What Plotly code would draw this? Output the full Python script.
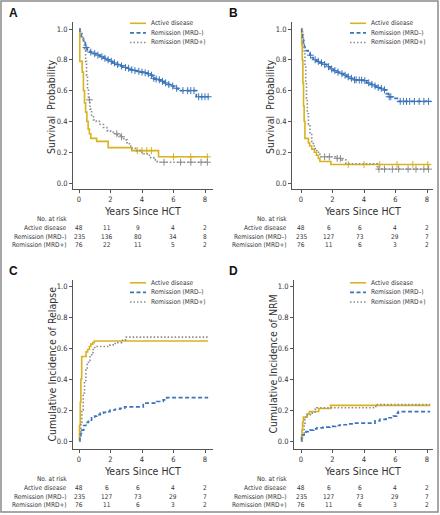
import plotly.graph_objects as go

W, H = 440, 515
FONT = "DejaVu Sans Condensed, Liberation Sans Narrow, Arial Narrow, Liberation Sans, Arial, sans-serif"
C_ACT = "#D8B21F"
C_NEG = "#3B74BA"
C_POS = "#8C8C8C"
TXT = "#333333"

GROUPS = ["Active disease", "Remission (MRD\u2013)", "Remission (MRD+)"]
RISK_TIMES = [0, 2, 4, 6, 8]

# ---------------- Panel A: overall survival ----------------
A_act_t = [0, 0.05, 0.2, 0.28, 0.35, 0.42, 0.5, 0.58, 0.66, 0.75, 1.12, 1.85, 3.35, 5.05, 8.15]
A_act_s = [1.0, 0.79, 0.72, 0.6, 0.52, 0.46, 0.40, 0.35, 0.32, 0.29, 0.27, 0.23, 0.21, 0.17, 0.17]
A_act_c = [3.7, 4.0, 4.3, 4.6, 6.0, 7.1, 8.15]
A_neg_t = [0, 0.06, 0.15, 0.28, 0.4, 0.53, 0.7, 0.92, 1.1, 1.34, 1.55, 1.77, 1.95, 2.1, 2.35, 2.6,
           2.85, 3.05, 3.25, 3.48, 3.7, 3.9, 4.1, 4.33, 4.5, 4.65, 4.8, 4.97, 5.2, 5.4, 5.6, 5.82,
           6.0, 6.14, 6.3, 6.46, 7.45, 8.25]
A_neg_s = [1.0, 0.98, 0.95, 0.91, 0.88, 0.86, 0.85, 0.84, 0.83, 0.82, 0.81, 0.80, 0.79, 0.78, 0.77, 0.76,
           0.75, 0.745, 0.735, 0.73, 0.725, 0.72, 0.715, 0.71, 0.70, 0.68, 0.675, 0.67, 0.66, 0.65, 0.64, 0.63,
           0.625, 0.615, 0.61, 0.60, 0.56, 0.56]
A_neg_c = [0.45, 0.75, 1.0, 1.2, 1.45, 1.65, 1.85, 2.05, 2.25, 2.45, 2.7, 2.95, 3.15, 3.35, 3.55, 3.8,
           4.0, 4.2, 4.4, 4.6, 4.75, 4.9, 5.1, 5.3, 5.5, 5.7, 5.95, 6.2, 6.6, 6.9, 7.1, 7.3, 7.6, 7.8, 8.0, 8.2]
A_pos_t = [0, 0.1, 0.2, 0.28, 0.35, 0.42, 0.48, 0.54, 0.6, 0.7, 0.8, 0.92, 1.1, 1.34, 1.55, 1.77, 2.0,
           2.2, 2.45, 2.62, 2.85, 3.05, 3.2, 3.37, 3.6, 3.9, 4.1, 4.33, 4.55, 4.75, 4.97, 8.15]
A_pos_s = [1.0, 0.97, 0.95, 0.92, 0.86, 0.79, 0.7, 0.61, 0.54, 0.48, 0.44, 0.41, 0.40, 0.38, 0.36, 0.34, 0.33,
           0.32, 0.31, 0.30, 0.28, 0.26, 0.24, 0.225, 0.21, 0.2, 0.19, 0.18, 0.165, 0.15, 0.135, 0.135]
A_pos_c = [0.66, 2.4, 2.7, 5.4, 6.45, 7.1, 7.75, 8.15]
A_risk = [[48, 11, 9, 4, 2], [235, 136, 80, 34, 8], [76, 22, 11, 5, 2]]

# ---------------- Panel B: leukemia-free survival ----------------
B_act_t = [0, 0.04, 0.08, 0.12, 0.16, 0.2, 0.25, 0.47, 0.55, 0.68, 0.85, 0.98, 1.1, 1.2, 1.9, 8.2]
B_act_s = [1.0, 0.9, 0.8, 0.65, 0.5, 0.4, 0.29, 0.26, 0.24, 0.22, 0.20, 0.18, 0.16, 0.14, 0.12, 0.12]
B_act_c = [3.0, 4.0, 5.0, 6.1, 7.1, 8.05]
B_neg_t = [0, 0.05, 0.1, 0.15, 0.22, 0.32, 0.45, 0.57, 0.68, 0.78, 0.99, 1.2, 1.4, 1.63, 1.85, 2.05, 2.25,
           2.48, 2.7, 2.9, 3.1, 3.32, 3.6, 3.96, 4.17, 4.4, 4.6, 4.8, 5.0, 5.23, 5.4, 5.54, 5.86, 6.18, 8.25]
B_neg_s = [1.0, 0.97, 0.93, 0.90, 0.88, 0.86, 0.85, 0.83, 0.815, 0.80, 0.79, 0.78, 0.77, 0.755, 0.74, 0.73, 0.72,
           0.71, 0.70, 0.69, 0.68, 0.67, 0.668, 0.665, 0.65, 0.64, 0.63, 0.62, 0.615, 0.605, 0.58, 0.56, 0.55, 0.53, 0.53]
B_neg_c = [0.6, 0.9, 1.1, 1.3, 1.5, 1.75, 1.95, 2.15, 2.35, 2.6, 2.8, 3.0, 3.2, 3.4, 3.5, 3.7, 3.85, 4.05,
           4.3, 4.5, 4.7, 4.9, 5.1, 5.3, 5.6, 5.7, 6.3, 6.5, 6.7, 6.9, 7.2, 7.5, 7.8, 8.1]
B_pos_t = [0, 0.1, 0.15, 0.2, 0.25, 0.3, 0.35, 0.4, 0.47, 0.57, 0.68, 0.78, 0.9, 1.0, 1.2, 2.2, 2.6,
           2.85, 4.85, 8.2]
B_pos_s = [1.0, 0.97, 0.93, 0.85, 0.76, 0.65, 0.55, 0.45, 0.38, 0.32, 0.27, 0.24, 0.22, 0.20, 0.17, 0.16, 0.15,
           0.125, 0.09, 0.09]
B_pos_c = [1.5, 1.8, 2.3, 2.5, 4.95, 5.3, 5.8, 6.2, 6.8, 7.3, 7.8, 8.1]
B_risk = [[48, 6, 6, 4, 2], [235, 127, 73, 29, 7], [76, 11, 6, 3, 2]]

# ---------------- Panel C: cumulative incidence of relapse ----------------
C_act_t = [0, 0.03, 0.08, 0.12, 0.17, 0.45, 0.55, 0.66, 0.75, 0.87, 0.97, 8.2]
C_act_s = [0, 0.1, 0.25, 0.40, 0.545, 0.575, 0.59, 0.61, 0.625, 0.635, 0.645, 0.645]
C_neg_t = [0, 0.06, 0.12, 0.17, 0.3, 0.44, 0.6, 0.8, 1.0, 1.12, 1.35, 1.55, 1.75, 1.97, 2.3, 2.6, 2.9,
           3.98, 4.08, 4.93, 5.35, 5.57, 8.2]
C_neg_s = [0, 0.02, 0.05, 0.07, 0.1, 0.12, 0.135, 0.15, 0.16, 0.17, 0.18, 0.185, 0.19, 0.20, 0.205, 0.21, 0.22,
           0.22, 0.245, 0.255, 0.265, 0.28, 0.28]
C_pos_t = [0, 0.06, 0.12, 0.18, 0.27, 0.35, 0.44, 0.52, 0.6, 0.7, 0.8, 0.9, 1.0, 1.97, 2.3, 2.7, 2.95, 8.2]
C_pos_s = [0, 0.05, 0.12, 0.2, 0.31, 0.39, 0.46, 0.5, 0.52, 0.55, 0.57, 0.59, 0.61, 0.62, 0.635, 0.65, 0.67, 0.67]
C_risk = [[48, 6, 6, 4, 2], [235, 127, 73, 29, 7], [76, 11, 6, 3, 2]]

# ---------------- Panel D: cumulative incidence of NRM ----------------
D_act_t = [0, 0.03, 0.06, 0.1, 0.15, 0.4, 0.53, 1.13, 1.88, 8.2]
D_act_s = [0, 0.03, 0.07, 0.12, 0.155, 0.175, 0.19, 0.21, 0.23, 0.23]
D_neg_t = [0, 0.05, 0.1, 0.2, 0.32, 0.45, 0.57, 0.8, 1.0, 1.4, 1.84, 2.2, 2.48, 3.0, 3.3, 4.55, 4.7, 5.0,
           5.4, 5.86, 6.07, 6.18, 8.2]
D_neg_s = [0, 0.02, 0.04, 0.05, 0.06, 0.065, 0.07, 0.078, 0.085, 0.09, 0.095, 0.1, 0.105, 0.11, 0.115, 0.115,
           0.13, 0.14, 0.15, 0.16, 0.18, 0.19, 0.19]
D_pos_t = [0, 0.1, 0.15, 0.2, 0.25, 0.32, 0.4, 0.68, 0.89, 1.0, 4.75, 8.2]
D_pos_s = [0, 0.02, 0.05, 0.1, 0.14, 0.16, 0.17, 0.18, 0.205, 0.215, 0.235, 0.235]
D_risk = [[48, 6, 6, 4, 2], [235, 127, 73, 29, 7], [76, 11, 6, 3, 2]]

STYLES = [dict(color=C_ACT, width=1.6, dash="solid"),
          dict(color=C_NEG, width=1.7, dash="4px,2.5px"),
          dict(color=C_POS, width=1.6, dash="1.5px,2px")]

panels = [
    dict(letter="A", ylabel="Survival  Probability",
         curves=[(A_act_t, A_act_s, A_act_c), (A_neg_t, A_neg_s, A_neg_c), (A_pos_t, A_pos_s, A_pos_c)],
         risk=A_risk, dx=(73, 213), dy=(22, 189), px0=79, px8=205, py0=183, py1=29, ox=0, oy=0, base=189),
    dict(letter="B", ylabel="Survival  Probability",
         curves=[(B_act_t, B_act_s, B_act_c), (B_neg_t, B_neg_s, B_neg_c), (B_pos_t, B_pos_s, B_pos_c)],
         risk=B_risk, dx=(292, 433), dy=(22, 189), px0=301, px8=427, py0=183, py1=29, ox=220, oy=0, base=189),
    dict(letter="C", ylabel="Cumulative Incidence of Relapse",
         curves=[(C_act_t, C_act_s, []), (C_neg_t, C_neg_s, []), (C_pos_t, C_pos_s, [])],
         risk=C_risk, dx=(73, 213), dy=(280, 449), px0=79, px8=205, py0=441, py1=286, ox=0, oy=258, base=449),
    dict(letter="D", ylabel="Cumulative Incidence of NRM",
         curves=[(D_act_t, D_act_s, []), (D_neg_t, D_neg_s, []), (D_pos_t, D_pos_s, [])],
         risk=D_risk, dx=(294, 433), dy=(280, 449), px0=301, px8=427, py0=441, py1=286, ox=220, oy=258, base=449),
]


def px(x):
    return x / W


def py(y):
    return 1 - y / H


def step_at(ts, ss, c):
    v = ss[0]
    for t, s in zip(ts, ss):
        if t <= c:
            v = s
    return v


fig = go.Figure()
annotations = []
shapes = []
layout_axes = {}

for i, p in enumerate(panels):
    n = "" if i == 0 else str(i + 1)
    xa, ya = "x" + n, "y" + n
    span = p["px8"] - p["px0"]
    xr = [(p["dx"][0] - p["px0"]) / span * 8, (p["dx"][1] - p["px0"]) / span * 8]
    yspan = p["py0"] - p["py1"]
    yr = [(p["py0"] - p["dy"][1]) / yspan, (p["py0"] - p["dy"][0]) / yspan]
    layout_axes["xaxis" + n] = dict(
        domain=[px(p["dx"][0]), px(p["dx"][1])], range=xr, anchor=ya,
        tickvals=RISK_TIMES, ticktext=[str(v) for v in RISK_TIMES],
        showline=True, linecolor="#555", linewidth=1, ticks="outside", ticklen=3,
        tickcolor="#555", tickfont=dict(family=FONT, size=7.5, color=TXT),
        showgrid=False, zeroline=False, fixedrange=True)
    layout_axes["yaxis" + n] = dict(
        domain=[py(p["dy"][1]), py(p["dy"][0])], range=yr, anchor=xa,
        tickvals=[0, 0.2, 0.4, 0.6, 0.8, 1.0], ticktext=["0.0", "0.2", "0.4", "0.6", "0.8", "1.0"],
        showline=True, linecolor="#555", linewidth=1, ticks="outside", ticklen=3,
        tickcolor="#555", tickfont=dict(family=FONT, size=7.5, color=TXT),
        showgrid=False, zeroline=False, fixedrange=True)

    for g, (ts, ss, cs) in enumerate(p["curves"]):
        st = STYLES[g]
        fig.add_trace(go.Scatter(
            x=ts, y=ss, mode="lines", xaxis=xa, yaxis=ya, showlegend=False,
            line=dict(shape="hv", color=st["color"], width=st["width"], dash=st["dash"]),
            hoverinfo="skip"))
        if cs:
            fig.add_trace(go.Scatter(
                x=cs, y=[step_at(ts, ss, c) for c in cs], mode="markers", xaxis=xa, yaxis=ya,
                showlegend=False, hoverinfo="skip",
                marker=dict(symbol="cross-thin", size=5, line=dict(color=st["color"], width=1))))

    ox, oy = p["ox"], p["oy"]
    # panel letter
    annotations.append(dict(text="<b>%s</b>" % p["letter"], x=px(13 + ox), y=py(13 + oy), xref="paper",
                            yref="paper", showarrow=False, xanchor="center", yanchor="middle",
                            font=dict(family="Liberation Sans, Arial, sans-serif", size=12, color="#111")))
    # y title
    annotations.append(dict(text=p["ylabel"], x=px(p["dx"][0] - 22), y=py((p["py0"] + p["py1"]) / 2 + 1),
                            xref="paper", yref="paper", showarrow=False, textangle=-90,
                            xanchor="center", yanchor="middle",
                            font=dict(family=FONT, size=10.5, color=TXT)))
    # legend
    leg_x0 = p["dx"][1] - 83
    for g in range(3):
        ly = 23.3 + oy + 1.5 + g * 9.6 if p["letter"] in "CD" else 23.3 + g * 9.6
        st = STYLES[g]
        shapes.append(dict(type="line", xref="paper", yref="paper", x0=px(leg_x0), x1=px(leg_x0 + 16),
                           y0=py(ly), y1=py(ly),
                           line=dict(color=st["color"], width=st["width"], dash=st["dash"])))
        annotations.append(dict(text=GROUPS[g], x=px(leg_x0 + 19), y=py(ly), xref="paper", yref="paper",
                                showarrow=False, xanchor="left", yanchor="middle",
                                font=dict(family=FONT, size=6.5, color=TXT)))
    # x title
    base = p["base"]
    annotations.append(dict(text="Years Since HCT", x=px(142 + ox), y=py(base + 21.5),
                            xref="paper", yref="paper", showarrow=False, xanchor="center", yanchor="middle",
                            font=dict(family=FONT, size=10.5, color=TXT)))
    annotations.append(dict(text="No. at risk", x=px(69 + ox), y=py(base + 29.5),
                            xref="paper", yref="paper", showarrow=False, xanchor="right", yanchor="middle",
                            font=dict(family=FONT, size=6.5, color=TXT)))
    shifts = [0, -4, -4, -1, 0]
    for g in range(3):
        ry = base + 39.3 + g * 8.3
        annotations.append(dict(text=GROUPS[g], x=px(69 + ox), y=py(ry), xref="paper", yref="paper",
                                showarrow=False, xanchor="right", yanchor="middle",
                                font=dict(family=FONT, size=6.5, color=TXT)))
        for k, tv in enumerate(RISK_TIMES):
            annotations.append(dict(text=str(p["risk"][g][k]), x=tv, y=py(ry), xref=xa, yref="paper",
                                    xshift=shifts[k], showarrow=False, xanchor="center", yanchor="middle",
                                    font=dict(family=FONT, size=6.5, color=TXT)))

# outer frame
shapes.append(dict(type="rect", xref="paper", yref="paper", x0=px(1), x1=px(438), y0=py(1), y1=py(512),
                   line=dict(color="#8a8a8a", width=1.5)))

fig.update_layout(width=W, height=H, autosize=False, margin=dict(l=0, r=0, t=0, b=0),
                  paper_bgcolor="white", plot_bgcolor="white", showlegend=False,
                  annotations=annotations, shapes=shapes, **layout_axes)

fig.write_html("out.html", config={"displayModeBar": False},
               post_script="document.body.style.margin='0';document.body.style.overflow='hidden';")
